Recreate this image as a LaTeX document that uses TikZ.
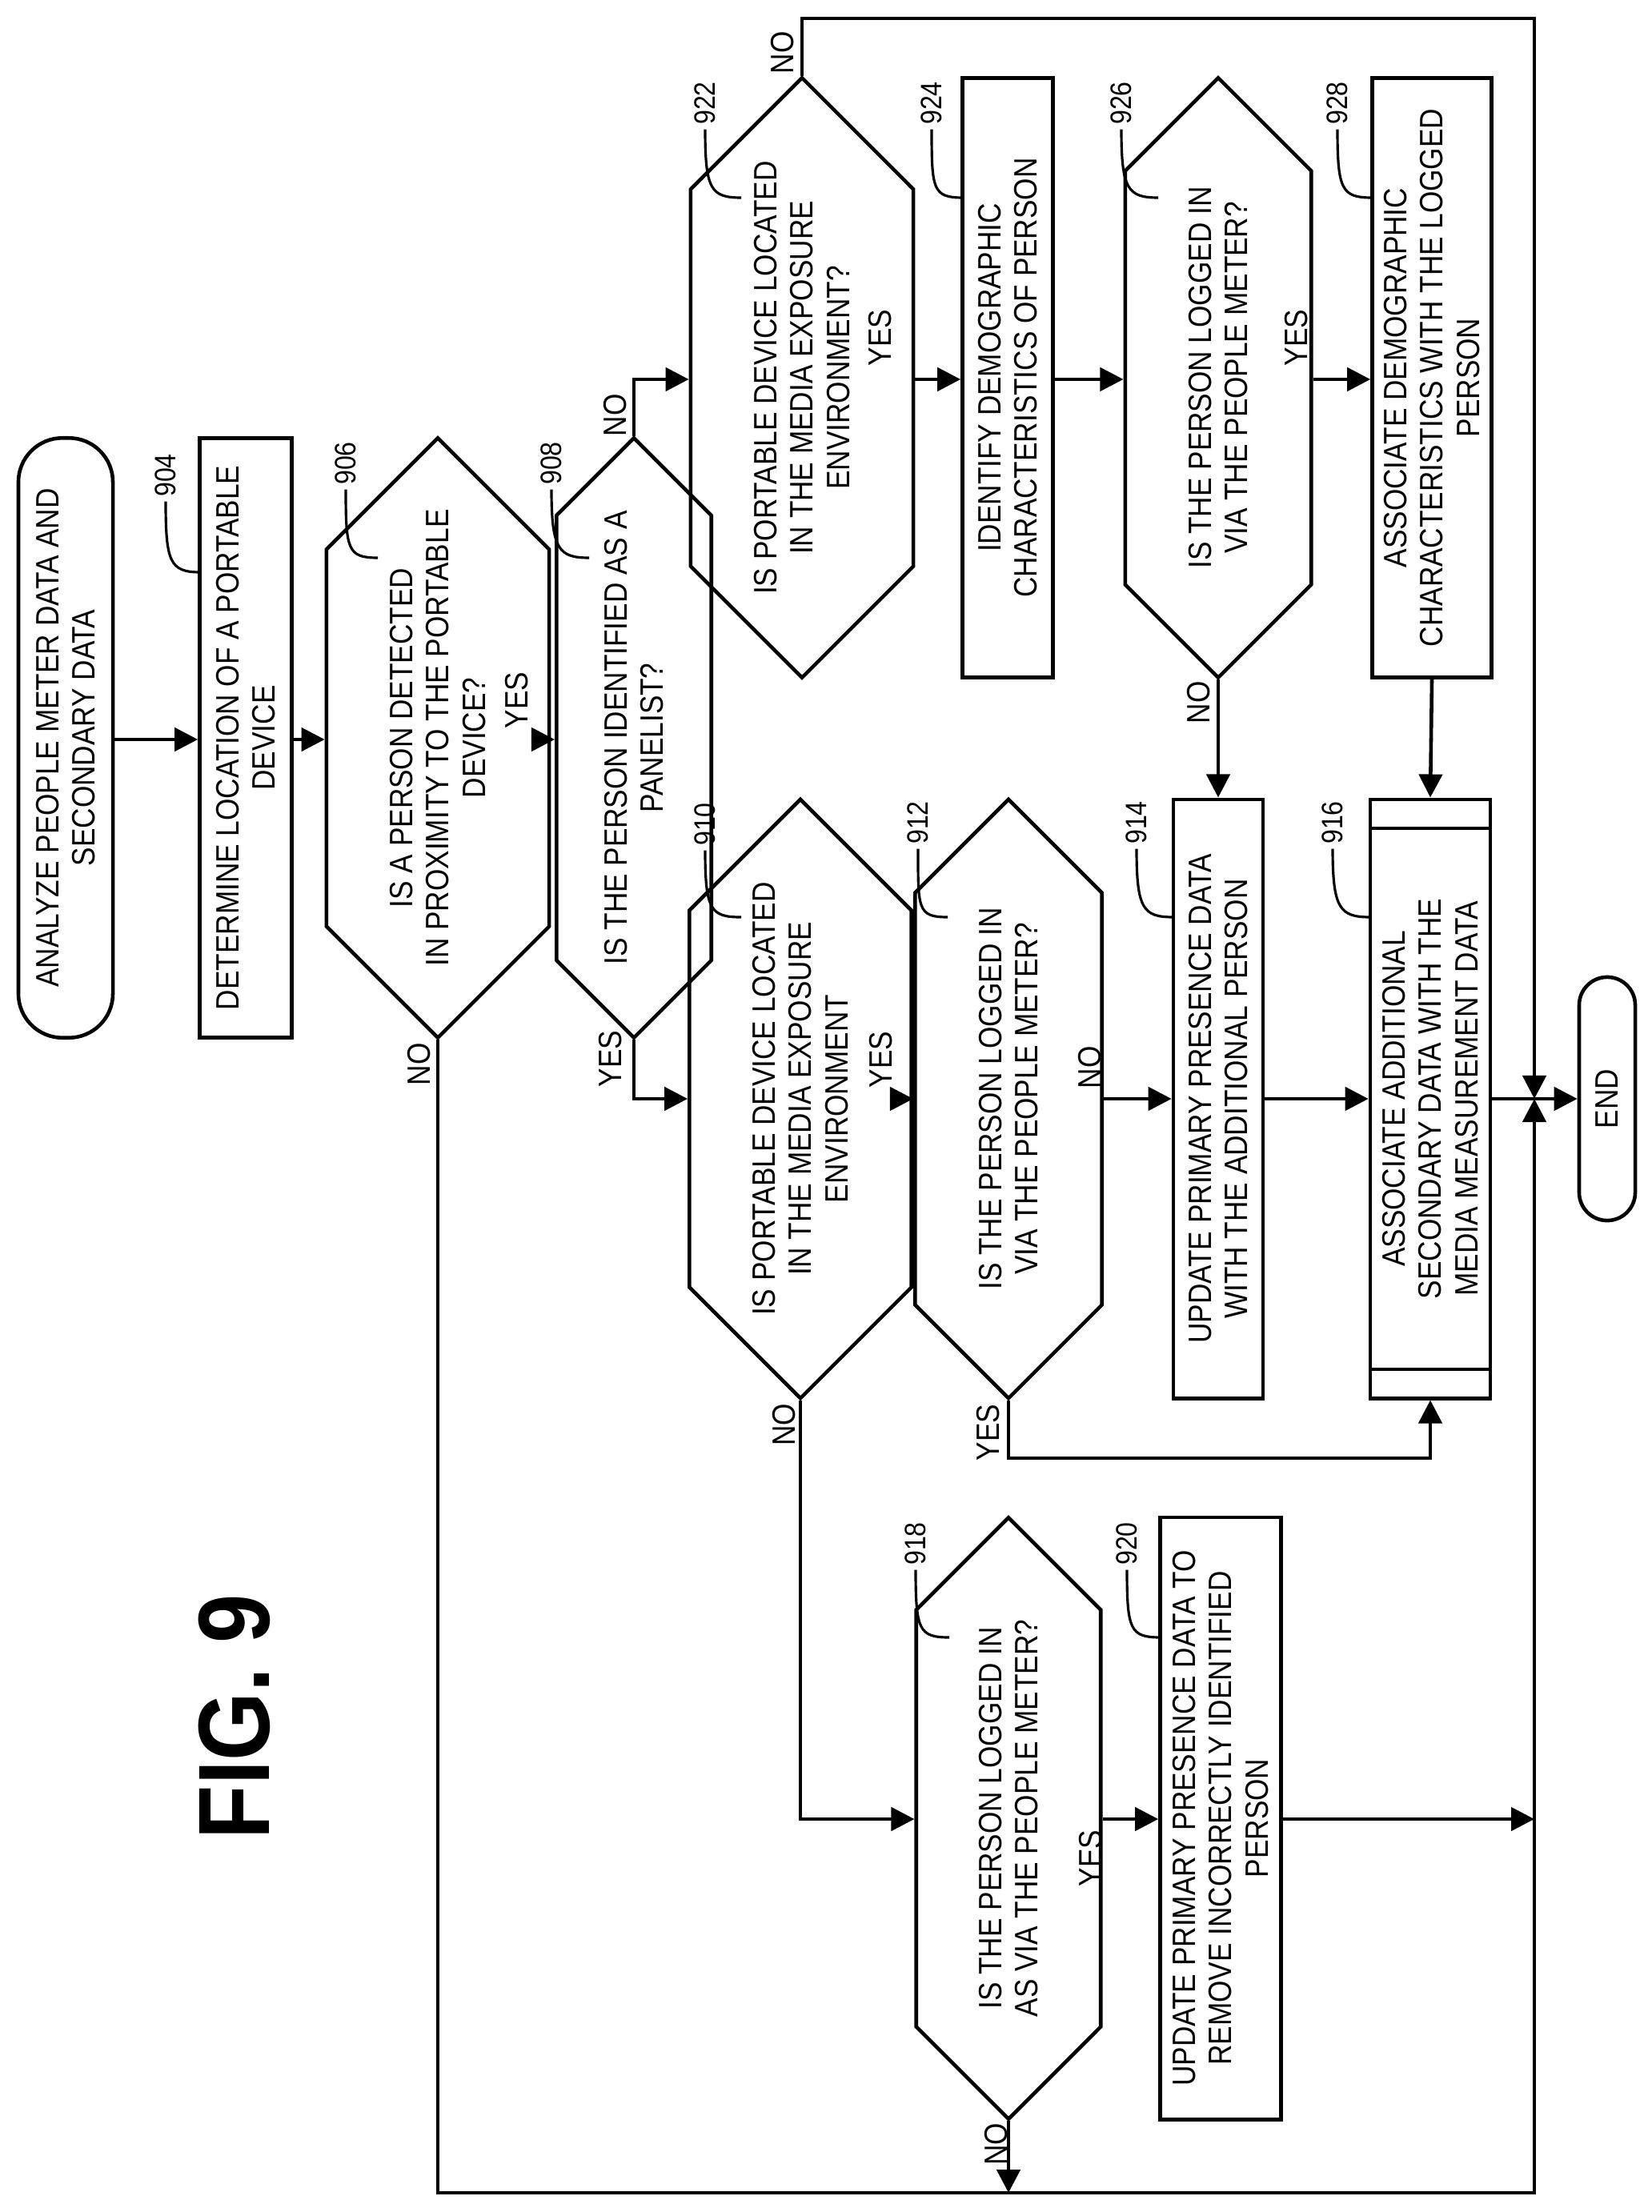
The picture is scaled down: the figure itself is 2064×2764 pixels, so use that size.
\documentclass[tikz,border=0pt]{standalone}
\usepackage{fontspec}
\setmainfont{Liberation Sans}[FakeStretch=0.87]
\usetikzlibrary{shapes.misc,arrows.meta}
\begin{document}
\begin{tikzpicture}[x=0.01cm,y=-0.01cm,line width=1.3pt,
  every node/.style={font=\fontsize{11.5}{13}\selectfont},
  box/.style={draw,rectangle,rotate=90,align=center,inner sep=2pt},
  dec/.style={draw,chamfered rectangle,chamfered rectangle xsep=0.73cm,rotate=90,align=center,inner sep=1pt},
  num/.style={rotate=90,inner sep=1pt,font=\fontsize{10.5}{12}\selectfont},
  yn/.style={rotate=90,inner sep=1pt},
  lead/.style={line width=0.9pt},
  arr/.style={-{Triangle[length=0.29cm,width=0.29cm]}}]
\useasboundingbox (0,0) rectangle (2064,2764);
\coordinate (rA) at (0,474);
\coordinate (rB) at (0,924);
\coordinate (rC) at (0,1373);
\coordinate (rD) at (0,2273);
\coordinate (rE) at (0,1822);
\coordinate (top) at (0,23);
\coordinate (bot) at (0,2740);
\coordinate (colR) at (1917,0);

\node[box,rounded corners=0.55cm,minimum width=7.49cm,minimum height=1.18cm] (start) at (82,922) {ANALYZE PEOPLE METER DATA AND\\SECONDARY DATA};
\node[box,minimum width=7.49cm,minimum height=1.15cm] (b904) at (307,922) {DETERMINE LOCATION OF A PORTABLE\\DEVICE};
\node[dec,minimum width=7.49cm,minimum height=1.51cm,chamfered rectangle ysep=0.755cm] (d906) at (547,922) {IS A PERSON DETECTED\\IN PROXIMITY TO THE PORTABLE\\DEVICE?};
\node[dec,minimum width=7.49cm,minimum height=1.12cm,chamfered rectangle ysep=0.56cm] (d908) at (792,922) {IS THE PERSON IDENTIFIED AS A\\PANELIST?};
\node[dec,minimum width=7.49cm,minimum height=1.51cm,chamfered rectangle ysep=0.755cm] (d922) at (1002,472) {IS PORTABLE DEVICE LOCATED\\IN THE MEDIA EXPOSURE\\ENVIRONMENT?};
\node[box,minimum width=7.49cm,minimum height=1.13cm] (b924) at (1259,472) {IDENTIFY DEMOGRAPHIC\\CHARACTERISTICS OF PERSON};
\node[dec,minimum width=7.49cm,minimum height=1.51cm,chamfered rectangle ysep=0.755cm] (d926) at (1522,472) {IS THE PERSON LOGGED IN\\VIA THE PEOPLE METER?};
\node[box,minimum width=7.49cm,minimum height=1.49cm] (b928) at (1789,472) {ASSOCIATE DEMOGRAPHIC\\CHARACTERISTICS WITH THE LOGGED\\PERSON};
\node[dec,minimum width=7.48cm,minimum height=1.50cm,chamfered rectangle ysep=0.75cm] (d910) at (1000,1373) {IS PORTABLE DEVICE LOCATED\\IN THE MEDIA EXPOSURE\\ENVIRONMENT};
\node[dec,minimum width=7.48cm,minimum height=1.52cm,chamfered rectangle ysep=0.76cm] (d912) at (1260,1373) {IS THE PERSON LOGGED IN\\VIA THE PEOPLE METER?};
\node[box,minimum width=7.48cm,minimum height=1.12cm] (b914) at (1522,1373) {UPDATE PRIMARY PRESENCE DATA\\WITH THE ADDITIONAL PERSON};
\node[box,minimum width=7.48cm,minimum height=1.50cm] (b916) at (1787,1373) {ASSOCIATE ADDITIONAL\\SECONDARY DATA WITH THE\\MEDIA MEASUREMENT DATA};
\draw (1712,1035) -- (1862,1035) (1712,1711) -- (1862,1711);
\node[box,rounded corners=0.35cm,minimum width=3.04cm,minimum height=0.70cm] (endn) at (2008,1373) {END};
\node[dec,minimum width=7.51cm,minimum height=1.49cm,chamfered rectangle ysep=0.745cm,chamfered rectangle xsep=0.75cm] (d918) at (1260,2272) {IS THE PERSON LOGGED IN\\AS VIA THE PEOPLE METER?};
\node[box,minimum width=7.52cm,minimum height=1.51cm] (b920) at (1525,2272) {UPDATE PRIMARY PRESENCE DATA TO\\REMOVE INCORRECTLY IDENTIFIED\\PERSON};

\node[rotate=90,font=\fontsize{36}{40}\selectfont\bfseries] (fig) at (293,2145) {FIG. 9};

% reference numerals
\foreach \n/\lx/\ly/\ex/\ey in {904/207/594/250/715, 906/432/579/472/697, 908/689/579/736/697,
  922/881/129/926/247, 924/1164/129/1203/247, 926/1401/129/1447/247, 928/1671/129/1714/247,
  910/881/1030/926/1146, 912/1147/1028/1184/1146, 914/1420/1028/1466/1146, 916/1665/1028/1712/1146,
  918/1144/1929/1186/2046, 920/1408/1929/1450/2046}{
  \node[num] (l\n) at (\lx,\ly) {\n};
  \draw[lead] (l\n.west) .. controls +(0,75) and +(-38,0) .. (\ex,\ey);
}

% yes/no labels
\node[yn] (t1) at (769,519) {NO};
\node[yn] (t2) at (646,875) {YES};
\node[yn] (t3) at (524,1330) {NO};
\node[yn] (t4) at (763,1323) {YES};
\node[yn] (t5) at (978,66) {NO};
\node[yn] (t6) at (1100,422) {YES};
\node[yn] (t7) at (1620,422) {YES};
\node[yn] (t8) at (1498,878) {NO};
\node[yn] (t9) at (1101,1324) {YES};
\node[yn] (t10) at (1362,1334) {NO};
\node[yn] (t11) at (980,1780) {NO};
\node[yn] (t12) at (1235,1790) {YES};
\node[yn] (t13) at (1245,2679) {NO};
\node[yn] (t14) at (1363,2322) {YES};

% connectors
\draw[arr] (start.south |- rB) -- (b904.north |- rB);
\draw[arr] (b904.south |- rB) -- (d906.north |- rB);
\draw[arr] (d906.south |- rB) -- (d908.north |- rB);
\draw[arr] (d908.east) -- (d908.east |- rA) -- (d922.north |- rA);
\draw[arr] (d908.west) -- (d908.west |- rC) -- (d910.north |- rC);
\draw[arr] (d922.east) -- (d922.east |- top) -- (colR |- top) -- (colR |- rC);
\draw[arr] (d922.south |- rA) -- (b924.north |- rA);
\draw[arr] (b924.south |- rA) -- (d926.north |- rA);
\draw[arr] (d926.south |- rA) -- (b928.north |- rA);
\draw[arr] (d926.west) -- (b914.east);
\draw[arr] (b928.west) -- (b916.east);
\draw[arr] (d910.south |- rC) -- (d912.north |- rC);
\draw[arr] (d912.south |- rC) -- (b914.north |- rC);
\draw[arr] (b914.south |- rC) -- (b916.north |- rC);
\draw[arr] (d912.west) -- (d912.west |- rE) -- (b916.west |- rE) -- (b916.west);
\draw (b916.south |- rC) -- (colR |- rC);
\draw[arr] (colR |- rC) -- (endn.north);
\draw[arr] (d910.west) -- (d910.west |- rD) -- (d918.north |- rD);
\draw[arr] (d918.south |- rD) -- (b920.north |- rD);
\draw[arr] (b920.south |- rD) -- (colR |- rD);
\draw[arr] (d918.west) -- (d918.west |- bot);
\draw[arr] (d906.west) -- (d906.west |- bot) -- (colR |- bot) -- (colR |- rC);
\end{tikzpicture}
\end{document}
